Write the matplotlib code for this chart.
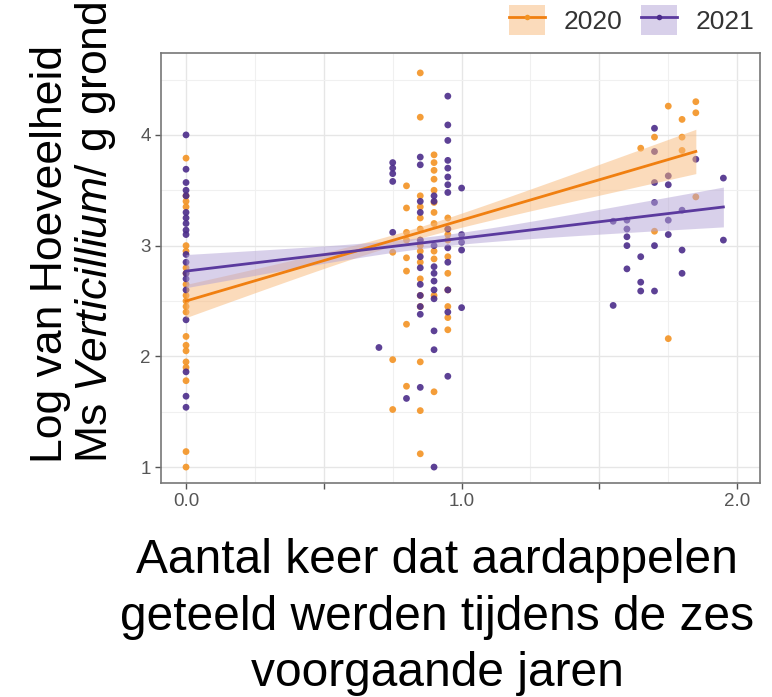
import numpy as np
import matplotlib
matplotlib.use("Agg")
import matplotlib.pyplot as plt
from matplotlib.lines import Line2D
from matplotlib.patches import Patch

plt.rcParams['font.family'] = ['Liberation Sans', 'DejaVu Sans']
plt.rcParams['mathtext.fontset'] = 'custom'
plt.rcParams['mathtext.rm'] = 'Liberation Sans'
plt.rcParams['mathtext.it'] = 'Liberation Sans:italic'

# ---- data ----
x_2020 = [0]*21 + [0.75]*3 + [0.80]*8 + [0.85]*16 + [0.90]*12 + [0.95]*10 \
         + [1.65, 1.70, 1.70, 1.75, 1.75, 1.80, 1.80, 1.80, 1.85, 1.85, 1.85]
y_2020 = [3.79, 3.45, 3.40, 3.35, 3.0, 2.95, 2.8, 2.75, 2.65, 2.55, 2.5, 2.45, 2.4,
          2.18, 2.1, 2.05, 1.95, 1.9, 1.78, 1.14, 1.0,
          2.94, 1.97, 1.52,
          3.54, 3.34, 3.12, 2.89, 2.77, 2.29, 1.73, 3.05,
          4.56, 4.16, 3.45, 3.35, 3.25, 3.15, 3.05, 2.95, 2.85, 2.7, 2.55, 2.45, 1.95, 1.51, 1.12, 3.0,
          3.82, 3.75, 3.68, 3.60, 3.5, 3.39, 3.2, 2.95, 2.88, 2.55, 1.68, 3.3,
          3.25, 3.15, 3.05, 2.9, 2.75, 2.6, 2.45, 2.35, 2.24, 3.1,
          3.88, 3.98, 3.13, 4.26, 2.16, 4.14, 3.98, 3.86, 4.30, 4.20, 3.44]

x_2021 = [0]*19 + [0.70] + [0.75]*5 + [0.80] + [0.85]*12 + [0.90]*11 + [0.95]*14 + [1.0]*5 \
         + [1.55, 1.55, 1.60, 1.60, 1.60, 1.60, 1.60, 1.65, 1.65, 1.65,
            1.70, 1.70, 1.70, 1.70, 1.70, 1.70, 1.75, 1.75, 1.75, 1.75,
            1.80, 1.80, 1.80, 1.85, 1.95, 1.95]
y_2021 = [4.0, 3.69, 3.57, 3.5, 3.45, 3.3, 3.25, 3.2, 3.14, 3.1, 2.92, 2.85, 2.75,
          2.7, 2.6, 2.33, 1.86, 1.64, 1.54,
          2.08,
          3.75, 3.70, 3.65, 3.58, 3.12,
          1.62,
          3.80, 3.73, 3.40, 3.30, 3.05, 2.9, 2.8, 2.65, 2.55, 2.45, 2.38, 1.72,
          3.45, 3.40, 3.0, 2.81, 2.75, 2.68, 2.60, 2.52, 2.23, 2.06, 1.0,
          4.35, 4.09, 3.95, 3.77, 3.7, 3.62, 3.55, 3.48, 3.15, 2.98, 2.85, 2.6, 2.4, 1.82,
          3.52, 3.10, 3.03, 2.96, 2.44,
          3.22, 2.46, 3.23, 3.15, 3.08, 3.0, 2.79, 2.9, 2.67, 2.59,
          4.06, 3.85, 3.57, 3.39, 3.0, 2.59, 3.63, 3.55, 3.23, 3.10,
          3.32, 2.96, 2.75, 3.78, 3.61, 3.05]

# fitted lines (intercept, slope) and confidence band shape
fit_2020 = dict(a=2.50, b=0.73, hw_min=0.05, xbar=0.78, k=0.181)
fit_2021 = dict(a=2.77, b=0.297, hw_min=0.05, xbar=0.877, k=0.161)

years = ['2020', '2021']
col_pt = {'2020': '#F39323', '2021': '#4B2C8A'}
col_ln = {'2020': '#F07F10', '2021': '#5B3A9E'}
col_fill = {'2020': '#F8B878', '2021': '#B3A3D6'}

fig = plt.figure(figsize=(7.72, 6.97), dpi=100)
ax = fig.add_axes([0.2085, 0.307, 0.776, 0.617])

series = {'2020': (x_2020, y_2020, fit_2020), '2021': (x_2021, y_2021, fit_2021)}
for yr in years:
    xs, ys, f = series[yr]
    ax.scatter(xs, ys, s=24, color=col_pt[yr], edgecolor='none', zorder=3, alpha=0.9)
for yr in years:
    xs, ys, f = series[yr]
    xx = np.linspace(min(xs), max(xs), 100)
    yy = f['a'] + f['b'] * xx
    hw = np.sqrt(f['hw_min']**2 + (f['k'] * (xx - f['xbar']))**2)
    ax.fill_between(xx, yy - hw, yy + hw, color=col_fill[yr], alpha=0.5, lw=0, zorder=4)
    ax.plot(xx, yy, color=col_ln[yr], lw=2, zorder=5)

ax.set_xlim(-0.091, 2.083)
ax.set_ylim(0.856, 4.74)
ax.set_xticks([0, 0.5, 1.0, 1.5, 2.0])
ax.set_xticklabels(['0.0', '', '1.0', '', '2.0'])
ax.set_xticks(np.arange(0, 2.01, 0.25), minor=True)
ax.set_yticks([1, 2, 3, 4])
ax.set_yticks([1.5, 2.5, 3.5, 4.5], minor=True)
ax.grid(True, which='major', color='#E6E6E6', lw=1)
ax.grid(True, which='minor', color='#F0F0F0', lw=0.8)
ax.set_axisbelow(True)
ax.tick_params(which='major', length=4, color='#555555', labelcolor='#555555',
               labelsize=13.5, width=1)
ax.tick_params(which='minor', length=0)
for s in ax.spines.values():
    s.set_color('#777777')
    s.set_linewidth(1.2)

# axis titles
fig.text(74/772, 1 - 463/697, 'Log van Hoeveelheid\nMs $\\mathit{Verticillium}$/ g grond',
         rotation=90, rotation_mode='anchor', ha='left', va='center',
         multialignment='left', fontsize=32, linespacing=1.05)
fig.text(437/772, 1 - 538/697,
         'Aantal keer dat aardappelen\ngeteeld werden tijdens de zes\nvoorgaande jaren',
         ha='center', va='top', multialignment='center', fontsize=34.5, linespacing=1.33)

handles = []
for yr in years:
    h = (Patch(facecolor=col_fill[yr], alpha=0.5, edgecolor='none'),
         Line2D([], [], color=col_ln[yr], lw=2, marker='o', markersize=4,
                markerfacecolor=col_pt[yr], markeredgecolor='none'))
    handles.append(h)
fig.legend(handles, years, loc='center right', bbox_to_anchor=(0.994, 0.971),
           ncol=2, frameon=False, fontsize=19, handlelength=1.35, handleheight=1.35,
           columnspacing=0.73, handletextpad=0.7, borderpad=0, labelcolor='#333333')

fig.savefig('out.png', dpi=100)
